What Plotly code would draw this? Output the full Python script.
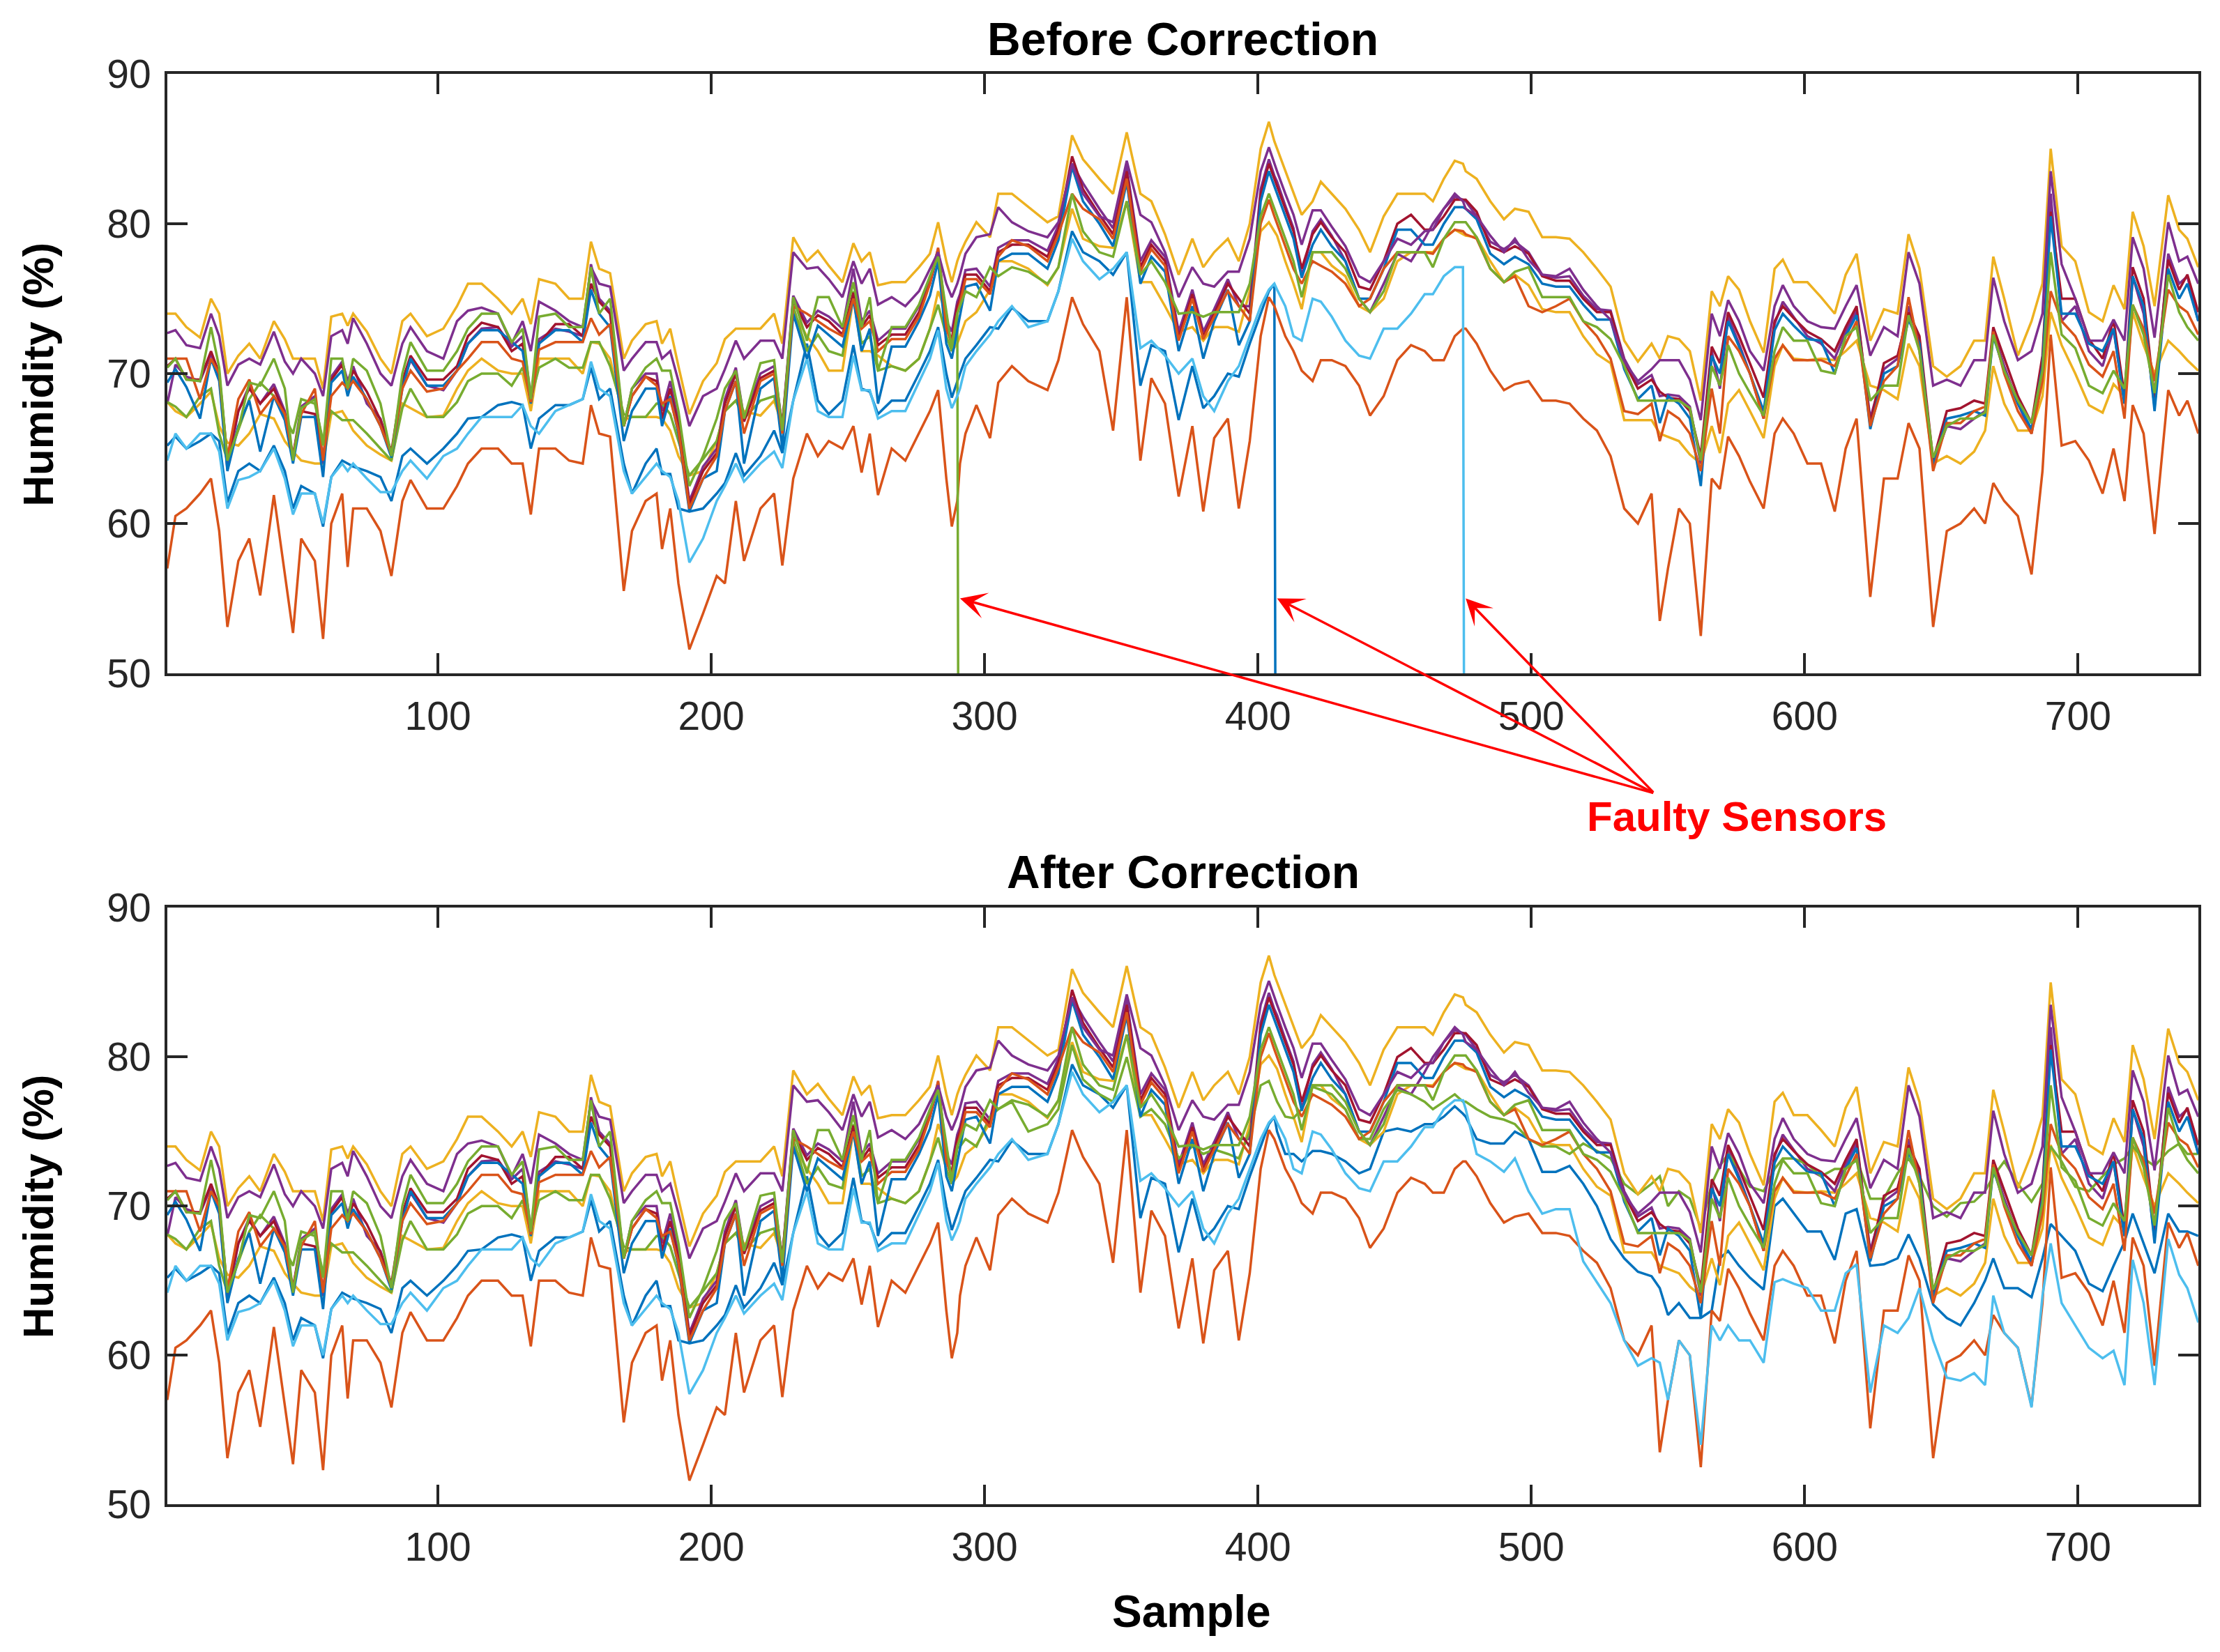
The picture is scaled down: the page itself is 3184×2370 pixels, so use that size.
import plotly.graph_objects as go

# sample index of every reading taken off the chart
samples = [
    1, 4, 8, 13, 17, 20, 23, 27, 31, 35, 40, 44, 47, 50, 55, 58, 61, 65, 67, 69, 74, 79, 83, 87,
    90, 96, 102, 107, 111, 116, 122, 127, 131, 134, 137, 143, 148, 153, 156, 159, 163, 168, 171,
    176, 180, 182, 185, 188,
    192, 197, 202, 205, 209, 212, 218, 223, 226, 230, 235, 239, 243, 248, 252, 255, 258, 261, 266,
    271, 276, 280, 283, 286, 288, 290, 291, 293, 297, 302, 305, 310, 316, 323, 327, 332, 336, 342,
    347, 352, 357, 361, 366, 371, 376, 380,
    384, 389, 393, 397, 401, 404, 406, 407, 410, 413, 416, 420, 423, 427, 432, 437, 441, 446, 451,
    456, 461, 464, 468, 472, 475, 476, 480, 485, 490, 494, 499, 504, 509, 514, 519, 524, 529, 534,
    539, 544, 547, 550, 554, 558, 562, 566,
    569, 572, 576, 580, 585, 589, 592, 596, 601, 606, 611, 615, 619, 624, 629, 634, 638, 642, 647,
    652, 657, 662, 666, 669, 673, 678, 683, 687, 690, 694, 699, 704, 709, 713, 717, 720, 724, 728,
    733, 737, 740, 744,
]

# healthy sensors (humidity %)
yellow_b = [
    74.0, 74.0, 73.1, 72.4, 75.0, 74.0, 70.0, 71.2, 72.0, 71.0, 73.5, 72.3, 71.0, 71.0, 71.0, 69.0,
    73.8, 74.0, 73.2, 74.0, 72.8, 71.0, 70.0, 73.5, 74.0, 72.5, 73.0, 74.5, 76.0, 76.0, 75.0, 74.0,
    75.0, 73.3, 76.3, 76.0, 75.0, 75.0, 78.8, 77.0, 76.7, 71.0, 72.2, 73.3, 73.5, 72.0, 73.0, 70.5,
    67.3, 69.5, 70.7, 72.3, 73.0, 73.0, 73.0, 74.0, 72.0, 79.1, 77.5, 78.2, 77.2, 76.1, 78.7, 77.5,
    78.1, 75.9, 76.1, 76.1, 77.1, 78.0, 80.1, 77.5, 76.1, 77.5, 78.0, 78.8, 80.1, 79.1, 82.0, 82.0,
    81.1, 80.1, 80.5, 85.9, 84.3, 83.0, 82.0, 86.1, 82.0, 81.5, 79.3, 76.6, 79.0, 77.1,
    78.1, 79.0, 77.5, 80.0, 85.0, 86.8, 85.5, 85.0, 83.5, 82.0, 80.6, 81.5, 82.8, 82.0, 81.0, 79.6,
    78.1, 80.5, 82.0, 82.0, 82.0, 81.5, 83.0, 84.2, 84.0, 83.5, 83.0, 81.5, 80.3, 81.0, 80.8, 79.1,
    79.1, 79.0, 78.1, 77.0, 75.8, 72.2, 70.8, 72.0, 71.0, 72.5, 72.3, 71.5, 68.2, 75.5,
    74.5, 76.5, 75.6, 73.5, 71.4, 77.0, 77.6, 76.1, 76.1, 75.1, 74.0, 76.6, 78.0, 72.2, 74.3, 74.0,
    79.3, 77.0, 70.5, 69.8, 70.5, 72.2, 72.2, 77.8, 75.0, 71.2, 73.5, 76.0, 85.0, 78.5, 77.5, 74.1,
    73.5, 75.9, 74.3, 80.8, 78.5, 74.5, 81.9, 79.6, 79.0, 77.1,
]
purple_b = [
    72.7, 72.9, 71.9, 71.7, 74.0, 72.5, 69.2, 70.6, 71.0, 70.6, 72.8, 70.8, 70.0, 71.0, 70.0, 68.5,
    72.5, 72.9, 72.0, 73.7, 72.0, 70.0, 69.2, 72.0, 73.1, 71.5, 71.0, 73.5, 74.2, 74.4, 74.0, 72.0,
    73.5, 71.5, 74.8, 74.2, 73.5, 73.1, 77.1, 76.0, 75.8, 70.2, 71.0, 72.1, 72.1, 71.0, 71.5, 69.5,
    66.5, 68.5, 69.0, 70.3, 72.2, 71.0, 72.2, 72.2, 71.0, 78.1, 77.0, 77.1, 76.3, 75.1, 77.5, 76.0,
    77.0, 74.6, 75.1, 74.5, 75.5, 77.0, 78.1, 76.0, 75.1, 76.0, 76.6, 78.0, 79.1, 79.3, 81.1, 80.1,
    79.5, 79.1, 80.1, 84.0, 82.0, 80.5, 80.1, 84.2, 80.6, 80.1, 78.1, 75.1, 77.1, 76.0,
    75.8, 76.8, 76.8, 79.0, 83.5, 85.1, 84.0, 83.5, 82.0, 80.6, 78.6, 80.9, 80.9, 79.8, 78.5, 76.5,
    76.1, 77.5, 79.0, 78.6, 79.5, 79.6, 81.0, 82.0, 81.5, 81.0, 80.5, 79.2, 78.1, 79.0, 77.6, 76.6,
    76.5, 77.0, 75.6, 74.5, 73.6, 70.8, 69.5, 70.3, 70.9, 70.9, 70.9, 69.6, 66.9, 74.0,
    72.5, 74.9, 73.5, 71.5, 70.2, 74.5, 75.9, 74.5, 73.5, 73.1, 73.0, 74.5, 75.9, 71.2, 73.1, 72.5,
    78.1, 76.0, 69.2, 69.6, 69.2, 70.9, 70.9, 76.4, 73.5, 70.9, 71.5, 74.0, 83.5, 77.3, 75.0, 72.2,
    72.2, 73.6, 72.2, 79.1, 77.0, 72.4, 80.1, 77.5, 77.8, 76.0,
]
dark_red = [
    70.5, 71.0, 69.6, 69.6, 71.5, 70.0, 64.2, 67.5, 69.0, 68.0, 69.0, 67.3, 64.5, 67.5, 67.3, 64.2,
    69.6, 70.6, 69.0, 70.2, 68.8, 66.9, 64.8, 69.5, 71.2, 69.6, 69.6, 70.5, 72.5, 73.4, 73.1, 71.5,
    72.0, 68.1, 72.0, 73.3, 73.3, 72.5, 76.0, 74.8, 74.0, 66.5, 68.5, 69.8, 69.5, 67.0, 69.0, 66.5,
    61.3, 63.5, 64.7, 68.0, 70.0, 66.8, 69.7, 70.2, 66.5, 74.9, 73.1, 73.9, 73.5, 72.6, 75.4, 73.1,
    73.9, 71.9, 72.6, 72.6, 74.1, 76.0, 78.1, 73.0, 72.3, 74.5, 75.0, 76.6, 76.6, 75.5, 78.1, 78.6,
    78.6, 77.8, 79.6, 84.5, 82.3, 80.6, 79.3, 83.5, 77.1, 78.6, 77.5, 72.4, 75.3, 72.5,
    74.0, 76.0, 75.0, 74.0, 82.0, 84.0, 83.0, 82.5, 81.0, 79.5, 77.0, 79.3, 80.1, 79.1, 78.1, 75.8,
    75.6, 77.5, 80.0, 80.6, 79.6, 79.6, 80.5, 81.6, 81.6, 81.6, 80.8, 78.5, 78.1, 78.5, 78.0, 76.5,
    76.2, 76.2, 75.0, 74.1, 74.1, 70.8, 69.0, 69.6, 68.8, 68.4, 68.3, 67.5, 64.5, 71.8,
    70.7, 74.1, 72.5, 70.7, 68.4, 73.5, 74.5, 73.7, 72.8, 72.3, 71.5, 73.1, 74.5, 66.7, 70.7, 71.2,
    74.1, 72.5, 64.2, 67.5, 67.7, 68.2, 68.0, 73.1, 71.0, 68.5, 66.7, 71.2, 80.8, 75.0, 75.0, 72.3,
    71.0, 73.6, 68.5, 77.1, 75.0, 68.4, 77.6, 75.6, 76.6, 74.1,
]
blue_b = [
    69.4, 70.3, 69.1, 67.0, 71.0, 69.5, 63.5, 66.5, 68.2, 64.8, 68.5, 66.9, 64.0, 67.1, 67.1, 63.1,
    69.4, 70.2, 68.5, 69.8, 68.3, 66.5, 64.4, 69.0, 71.0, 69.2, 69.2, 70.2, 72.0, 72.9, 72.9, 72.1,
    71.5, 68.0, 72.0, 72.9, 72.9, 72.1, 75.6, 74.0, 73.1, 65.5, 67.5, 69.0, 69.0, 66.5, 68.5, 66.0,
    60.8, 63.0, 63.5, 67.5, 69.5, 64.0, 69.0, 69.7, 65.0, 74.0, 71.0, 73.2, 72.6, 71.8, 75.0, 71.5,
    73.0, 68.0, 71.8, 71.8, 73.5, 75.2, 77.5, 72.0, 71.0, 73.0, 74.0, 75.8, 76.0, 74.2, 77.5, 78.0,
    78.0, 77.0, 78.9, 83.8, 81.5, 80.0, 78.5, 82.8, 76.0, 77.8, 76.8, 71.5, 74.5, 71.0,
    73.5, 75.6, 71.9, 73.5, 81.5, 83.5, 82.5, 82.0, 80.5, 79.0, 76.4, 78.6, 79.6, 78.5, 77.5, 75.0,
    75.0, 77.0, 79.6, 79.6, 78.6, 78.6, 80.0, 81.1, 81.1, 81.0, 80.3, 78.0, 77.3, 77.8, 77.3, 76.0,
    75.8, 75.8, 74.6, 73.6, 73.6, 70.3, 68.3, 69.2, 66.7, 68.5, 68.0, 67.0, 62.5, 71.2,
    70.0, 73.5, 71.8, 70.0, 67.5, 72.9, 74.0, 73.2, 72.3, 72.2, 70.0, 72.5, 73.9, 66.3, 70.0, 70.5,
    73.6, 72.0, 63.8, 67.0, 67.2, 67.5, 67.2, 72.5, 70.2, 68.0, 66.3, 70.5, 80.5, 74.0, 74.0, 72.0,
    71.5, 73.0, 68.0, 76.5, 74.5, 67.5, 77.0, 75.0, 76.0, 73.5,
]
purple_a = [
    68.0, 70.6, 69.8, 69.5, 71.3, 69.8, 63.6, 67.5, 69.2, 68.0, 69.3, 67.5, 64.5, 67.8, 68.5, 64.0,
    69.8, 70.8, 69.5, 70.5, 68.0, 67.0, 64.6, 69.3, 70.9, 69.2, 68.9, 70.2, 72.0, 73.0, 73.1, 71.8,
    72.5, 68.5, 72.3, 73.0, 72.8, 72.5, 77.3, 75.0, 74.2, 66.5, 69.0, 70.0, 70.0, 67.5, 69.5, 66.8,
    61.5, 63.8, 65.0, 68.3, 70.4, 67.0, 70.0, 70.5, 66.5, 75.2, 73.4, 74.2, 73.8, 73.0, 77.0, 73.5,
    74.2, 72.2, 73.0, 73.0, 74.5, 76.3, 78.3, 73.5, 72.8, 74.8, 75.3, 76.9, 77.0, 75.8, 78.4, 78.9,
    78.9, 78.2, 79.9, 84.0, 82.7, 81.0, 79.7, 83.8, 77.5, 78.9, 77.8, 72.8, 75.6, 72.8,
    74.3, 76.3, 74.5, 74.5, 82.3, 84.3, 83.2, 82.8, 81.2, 79.7, 76.5, 79.5, 80.3, 79.2, 77.5, 75.0,
    74.1, 76.0, 78.0, 77.5, 79.0, 80.0, 81.0, 81.8, 81.6, 81.5, 80.5, 78.8, 78.3, 78.8, 78.1, 76.6,
    76.4, 76.5, 75.2, 74.3, 74.2, 71.0, 69.3, 69.9, 68.5, 68.6, 68.5, 67.8, 64.0, 71.5,
    69.0, 73.8, 72.0, 70.0, 67.0, 73.3, 74.8, 73.8, 72.5, 72.0, 71.0, 72.8, 74.2, 67.0, 70.3, 71.0,
    74.5, 72.0, 64.0, 66.5, 66.3, 67.0, 67.5, 72.8, 70.5, 68.0, 66.0, 70.5, 82.0, 73.5, 74.5, 71.5,
    70.5, 73.0, 68.0, 76.5, 74.0, 67.8, 78.0, 76.0, 76.5, 73.5,
]
green_b = [
    70.4, 71.0, 69.6, 69.5, 73.1, 70.4, 64.2, 66.3, 69.4, 69.2, 71.0, 69.0, 64.2, 67.7, 68.3, 65.2,
    71.0, 71.0, 69.0, 71.0, 70.2, 68.0, 64.5, 70.0, 72.1, 70.2, 70.2, 71.5, 73.0, 74.0, 74.0, 72.1,
    73.0, 68.3, 73.8, 74.0, 73.1, 73.1, 77.1, 74.0, 75.0, 66.5, 69.0, 70.4, 71.0, 70.2, 70.2, 67.5,
    62.5, 64.5, 67.0, 69.0, 70.2, 67.0, 70.7, 70.9, 66.2, 75.1, 72.2, 75.1, 75.1, 73.1, 76.1, 73.1,
    75.1, 70.2, 73.1, 73.1, 74.6, 76.5, 77.8, 74.0, 71.7, 74.0, 74.5, 75.5, 75.1, 77.1, 76.5, 77.1,
    76.8, 76.0, 77.1, 82.0, 79.5, 78.1, 77.8, 81.5, 76.6, 77.5, 76.1, 74.0, 74.1, 73.8,
    74.1, 74.1, 74.1, 76.0, 80.5, 82.0, 81.0, 80.5, 79.0, 77.5, 75.1, 78.1, 78.1, 78.1, 77.0, 75.0,
    74.1, 75.5, 78.1, 78.1, 78.1, 77.1, 79.0, 80.1, 80.1, 80.1, 79.1, 77.0, 76.1, 76.8, 77.1, 75.1,
    75.1, 75.1, 73.5, 73.1, 72.3, 70.5, 68.2, 68.2, 68.2, 68.2, 68.2, 67.7, 64.2, 70.5,
    69.2, 71.9, 70.0, 68.7, 67.2, 71.5, 73.1, 72.2, 72.2, 70.2, 70.0, 72.5, 73.1, 68.2, 69.2, 69.2,
    73.9, 71.5, 64.4, 66.5, 67.0, 67.0, 67.4, 72.6, 70.2, 68.2, 66.7, 70.2, 78.1, 72.6, 71.7, 69.2,
    68.7, 70.2, 69.0, 74.6, 72.6, 68.7, 76.6, 74.1, 73.1, 72.2,
]
yellow_a = [
    68.1, 67.5, 67.1, 68.0, 68.8, 66.5, 65.4, 65.2, 66.0, 67.3, 67.0, 65.5, 64.8, 64.2, 64.0, 64.0,
    67.3, 67.5, 66.9, 66.2, 65.2, 64.6, 64.2, 68.0, 67.7, 67.1, 67.2, 69.0, 70.2, 71.0, 70.2, 70.0,
    70.0, 67.5, 71.0, 71.0, 71.0, 70.0, 72.1, 72.0, 71.0, 66.9, 67.1, 67.1, 67.1, 67.0, 66.2, 64.5,
    63.2, 63.5, 65.5, 67.5, 68.2, 67.5, 67.2, 68.2, 66.5, 74.1, 72.5, 71.5, 70.2, 70.2, 75.1, 71.5,
    71.5, 71.2, 70.5, 70.2, 71.0, 73.0, 75.5, 74.0, 71.5, 72.0, 72.5, 73.5, 74.1, 75.6, 77.5, 77.5,
    77.0, 75.9, 77.1, 81.0, 79.0, 78.5, 78.4, 81.5, 76.1, 76.1, 74.5, 72.8, 73.1, 72.2,
    73.1, 73.1, 72.8, 75.5, 79.5, 80.1, 79.5, 79.2, 77.5, 76.0, 74.3, 78.1, 78.1, 77.2, 76.5, 74.5,
    74.1, 75.0, 77.5, 78.1, 78.1, 78.1, 79.0, 79.6, 79.3, 79.2, 79.1, 77.5, 76.1, 76.6, 75.9, 74.3,
    74.1, 74.1, 72.5, 71.3, 70.7, 66.9, 66.9, 66.9, 66.0, 65.8, 65.5, 64.6, 64.0, 66.5,
    64.7, 68.0, 68.9, 67.5, 65.7, 70.5, 71.9, 71.0, 70.9, 71.0, 70.9, 71.5, 72.2, 69.2, 68.9, 68.3,
    72.0, 70.5, 64.0, 64.5, 64.0, 64.8, 66.2, 70.5, 68.0, 66.2, 66.2, 68.5, 74.1, 71.9, 70.0, 67.9,
    67.4, 69.3, 68.5, 74.1, 71.9, 70.0, 72.2, 71.5, 70.9, 70.2,
]
orange_b = [
    71.0, 71.0, 71.0, 68.3, 71.0, 70.0, 64.4, 68.3, 69.6, 67.3, 68.5, 67.3, 64.5, 67.3, 69.0, 64.2,
    68.5, 69.4, 69.0, 69.5, 68.3, 66.5, 64.6, 69.0, 70.2, 68.8, 69.0, 70.2, 71.0, 72.1, 72.1, 71.0,
    70.8, 68.1, 71.6, 72.1, 72.1, 72.1, 73.7, 72.6, 73.3, 66.5, 68.5, 69.8, 69.2, 68.0, 68.3, 66.2,
    61.0, 63.0, 64.5, 67.5, 69.5, 66.0, 69.5, 70.0, 66.0, 74.5, 74.0, 73.5, 73.0, 72.5, 75.0, 73.0,
    73.5, 71.5, 72.3, 72.3, 73.8, 76.0, 78.4, 73.0, 72.0, 74.0, 74.7, 76.3, 76.3, 75.3, 77.8, 78.9,
    78.5, 77.5, 79.3, 82.0, 81.0, 80.3, 79.0, 83.0, 76.8, 78.3, 77.2, 72.2, 75.0, 72.3,
    73.8, 75.5, 74.5, 73.5, 80.0, 81.6, 80.5, 80.0, 78.5, 77.0, 76.0, 77.5, 77.2, 76.8, 76.0, 74.5,
    75.0, 77.0, 78.1, 78.1, 78.1, 78.0, 79.0, 79.6, 79.5, 79.3, 79.0, 77.0, 76.1, 76.5, 74.5, 74.1,
    74.5, 75.0, 73.5, 72.5, 71.0, 67.5, 67.3, 68.0, 65.5, 67.5, 67.0, 66.0, 63.5, 69.0,
    66.0, 72.5, 71.5, 70.0, 67.0, 71.0, 71.9, 70.9, 70.9, 70.9, 70.5, 72.0, 73.5, 66.5, 69.5, 70.5,
    75.1, 71.5, 63.5, 66.7, 66.7, 67.5, 67.8, 72.8, 70.0, 67.5, 66.0, 69.5, 75.5, 73.5, 72.5, 70.6,
    69.8, 71.5, 67.0, 74.6, 73.0, 69.5, 75.6, 74.5, 74.1, 72.6,
]
orange_a = [
    57.0, 60.5, 61.0, 62.0, 63.0, 59.5, 53.1, 57.5, 59.0, 55.2, 61.9, 56.5, 52.7, 59.0, 57.5, 52.3,
    60.0, 62.0, 57.1, 61.0, 61.0, 59.5, 56.5, 61.5, 62.9, 61.0, 61.0, 62.5, 64.0, 65.0, 65.0, 64.0,
    64.0, 60.6, 65.0, 65.0, 64.2, 64.0, 67.9, 66.0, 65.8, 55.5, 59.5, 61.5, 62.0, 58.3, 61.0, 56.0,
    51.6, 54.0, 56.5, 56.0, 61.5, 57.5, 61.0, 62.0, 57.2, 63.0, 66.0, 64.5, 65.5, 65.0, 66.5, 63.4,
    66.0, 61.9, 65.0, 64.2, 66.0, 67.5, 68.9, 63.0, 59.8, 61.5, 64.0, 66.0, 67.9, 65.7, 69.4, 70.5,
    69.5, 68.9, 70.9, 75.1, 73.3, 71.5, 66.2, 75.1, 64.2, 69.7, 68.0, 61.8, 66.5, 60.8,
    65.7, 67.0, 61.0, 65.5, 72.5, 75.1, 74.5, 74.0, 72.5, 71.5, 70.2, 69.5, 70.9, 70.9, 70.5, 69.2,
    67.2, 68.5, 70.9, 71.9, 71.5, 70.9, 70.9, 72.5, 73.0, 73.0, 72.0, 70.2, 68.9, 69.3, 69.5, 68.2,
    68.2, 68.0, 67.0, 66.2, 64.5, 61.0, 60.0, 62.0, 53.5, 57.0, 61.0, 60.0, 52.5, 63.0,
    62.3, 65.8, 64.5, 62.8, 61.0, 66.0, 67.0, 66.0, 64.0, 64.0, 60.8, 65.0, 67.0, 55.1, 63.0, 63.0,
    66.7, 65.0, 53.1, 59.5, 60.0, 61.0, 60.0, 62.7, 61.5, 60.5, 56.6, 63.5, 72.6, 65.2, 65.5, 64.2,
    62.0, 65.0, 61.5, 67.9, 66.0, 59.3, 68.9, 67.2, 68.2, 66.0,
]

# faulty sensors: readings up to the fault ...
green_a = [
    68.1, 67.8, 67.1, 68.5, 69.0, 66.0, 64.2, 66.3, 68.3, 69.4, 68.5, 67.1, 66.0, 68.3, 68.0, 65.5,
    67.5, 66.9, 66.9, 66.9, 66.0, 65.0, 64.2, 67.7, 69.0, 67.1, 67.1, 68.1, 69.5, 70.0, 70.0, 69.2,
    70.4, 68.3, 70.4, 71.0, 70.4, 70.4, 72.1, 72.1, 70.5, 67.3, 67.1, 67.1, 68.0, 68.0, 67.3, 65.5,
    63.2, 64.3, 65.5, 67.5, 68.2, 67.0, 68.2, 68.5, 66.5, 74.5, 71.5, 72.6, 71.5, 71.2, 75.5, 72.0,
    72.5, 70.2, 70.5, 70.2, 71.0, 73.0, 74.6, 72.5, 71.5, 73.9,
]
blue_a = [
    65.2, 65.8, 65.0, 65.5, 66.0, 65.5, 61.4, 63.5, 64.0, 63.5, 65.2, 63.5, 61.0, 62.5, 62.0, 59.8,
    63.1, 64.2, 64.0, 63.8, 63.5, 63.1, 61.5, 64.5, 65.0, 64.0, 65.0, 66.0, 67.0, 67.1, 67.9, 68.1,
    67.9, 65.0, 67.0, 67.9, 67.9, 68.3, 70.4, 68.3, 69.0, 64.0, 62.0, 64.0, 65.0, 63.3, 63.3, 61.0,
    60.8, 61.0, 62.0, 62.7, 64.7, 63.2, 64.5, 66.2, 64.7, 68.2, 72.0, 68.2, 67.3, 68.2, 71.9, 69.0,
    68.8, 67.3, 68.2, 68.2, 70.0, 71.5, 73.1, 70.0, 68.4, 69.5, 70.0, 71.0, 71.9, 73.1, 73.0, 74.4,
    73.5, 73.5, 75.5, 79.5, 78.1, 77.5, 76.6, 78.1, 69.2, 71.9, 71.5, 66.9, 70.5, 67.7,
    68.5, 70.0, 69.8, 72.0, 74.0, 75.5, 76.0,
]
light_blue = [
    64.2, 66.0, 65.0, 66.0, 66.0, 64.8, 61.0, 62.9, 63.1, 63.5, 65.0, 63.0, 60.6, 62.0, 62.0, 60.0,
    63.1, 64.0, 63.5, 64.0, 63.0, 62.1, 62.1, 63.5, 64.2, 63.0, 64.5, 65.0, 66.0, 67.1, 67.1, 67.1,
    67.9, 66.5, 66.0, 67.5, 67.9, 68.3, 70.8, 69.0, 68.5, 63.5, 62.0, 63.1, 64.0, 63.5, 63.1, 61.5,
    57.4, 59.0, 61.5, 62.5, 64.0, 62.8, 64.0, 64.8, 63.7, 68.2, 71.0, 67.5, 67.1, 67.1, 71.2, 68.9,
    68.9, 67.0, 67.5, 67.5, 69.4, 71.0, 72.9, 69.0, 67.7, 68.5, 69.0, 70.5, 71.5, 72.6, 73.5, 74.5,
    73.1, 73.5, 75.5, 79.0, 77.5, 76.3, 77.0, 78.1, 71.7, 72.2, 71.2, 70.0, 71.0, 68.5,
    67.5, 69.5, 70.5, 72.5, 74.5, 75.6, 76.0, 75.6, 74.5, 72.5, 72.2, 75.0, 74.8, 73.8, 72.2, 71.2,
    71.0, 73.0, 73.0, 74.0, 75.3, 75.3, 76.5, 77.1, 77.1,
]
# ... what a faulty sensor reports once it has failed
faulty_reading = 0.0

# ... and the corrected readings from the fault onwards
green_a_fixed = [
    74.0, 74.5, 74.0, 76.0, 76.5, 77.0, 75.0, 75.5, 76.5, 80.8, 78.5, 77.5, 77.0, 80.0, 76.0, 76.5,
    75.5, 73.2, 74.0, 73.5,
    73.8, 73.5, 73.2, 75.0, 78.1, 78.4, 77.5, 77.0, 76.0, 75.9, 76.5, 78.0, 77.8, 77.5, 76.5, 74.5,
    74.5, 76.5, 77.8, 77.5, 77.0, 76.5, 77.0, 77.5, 77.0, 77.0, 76.5, 76.0, 75.8, 75.5, 74.5, 74.0,
    74.0, 73.5, 74.2, 73.7, 73.2, 71.5, 70.8, 71.5, 72.0, 70.0, 71.0, 70.5, 68.5, 71.5,
    72.7, 73.5, 72.5, 71.3, 71.0, 72.5, 73.2, 73.2, 72.8, 72.0, 72.5, 72.5, 73.2, 70.5, 70.5, 72.2,
    73.2, 72.0, 70.0, 69.3, 70.2, 70.3, 71.0, 72.0, 73.0, 71.5, 70.3, 71.5, 74.0, 73.0, 71.3, 71.0,
    72.0, 72.8, 73.2, 74.0, 73.2, 72.7, 73.7, 74.2, 73.5, 73.5,
]
blue_a_fixed = [
    75.0, 73.5, 73.5, 73.0, 73.7, 73.7, 73.5, 73.0, 72.2, 72.5, 75.0, 75.2, 75.0, 75.5, 75.5, 76.0,
    76.7, 76.2, 76.0, 74.5, 74.2, 74.2, 75.0, 74.5, 72.3, 72.3, 72.7, 71.5, 70.0, 67.8, 66.5, 65.6,
    65.3, 64.5, 62.7, 63.5, 62.5, 62.5, 63.0,
    66.5, 67.0, 66.0, 65.2, 64.4, 70.0, 70.5, 69.5, 68.3, 68.3, 66.4, 69.5, 69.8, 66.0, 66.1, 66.5,
    68.1, 66.5, 63.4, 62.5, 62.0, 63.5, 65.0, 66.5, 64.5, 64.5, 63.9, 66.5, 68.8, 68.0, 67.0, 64.8,
    64.3, 66.0, 67.6, 69.5, 67.5, 65.5, 69.5, 68.3, 68.3, 68.0,
]
light_blue_fixed = [
    76.5, 73.5, 73.0, 72.3, 73.2, 71.0, 69.5, 69.8, 69.8, 66.3, 64.9, 63.5, 61.0, 59.3, 59.8, 59.5,
    57.0, 61.0, 60.0, 54.0, 62.0,
    61.0, 62.0, 61.0, 61.0, 59.5, 64.9, 65.1, 64.8, 64.5, 63.0, 63.0, 65.5, 66.1, 57.5, 62.0, 61.5,
    62.5, 64.5, 61.0, 58.5, 58.3, 58.8, 58.0, 64.0, 61.5, 60.5, 56.5, 64.0, 67.5, 63.5, 62.0, 60.5,
    59.8, 60.3, 58.0, 66.4, 63.5, 58.0, 67.8, 65.4, 64.5, 62.2,
]

# MATLAB default line colours, in plotting order
sensors = [
    (blue_a, blue_a_fixed, "#0072BD"),
    (orange_a, None, "#D95319"),
    (yellow_a, None, "#EDB120"),
    (purple_a, None, "#7E2F8E"),
    (green_a, green_a_fixed, "#77AC30"),
    (light_blue, light_blue_fixed, "#4DBEEE"),
    (dark_red, None, "#A2142F"),
    (blue_b, None, "#0072BD"),
    (orange_b, None, "#D95319"),
    (yellow_b, None, "#EDB120"),
    (purple_b, None, "#7E2F8E"),
    (green_b, None, "#77AC30"),
]

fig = go.Figure()
fault_samples = []
for values, fixed, color in sensors:
    line = dict(color=color, width=3.5)
    n = len(values)
    if fixed is None:
        x_top, y_top = samples[:n], values
        x_bot, y_bot = samples[:n], values
    else:
        # raw signal drops out at the fault, corrected one carries on
        fault_samples.append(samples[n])
        x_top, y_top = samples[:n + 1], values + [faulty_reading]
        x_bot, y_bot = samples[:n + len(fixed)], values + fixed
    fig.add_trace(go.Scatter(x=x_top, y=y_top, mode="lines", line=line,
                             xaxis="x", yaxis="y", hoverinfo="skip"))
    fig.add_trace(go.Scatter(x=x_bot, y=y_bot, mode="lines", line=line,
                             xaxis="x2", yaxis="y2", hoverinfo="skip"))

dark = "#262626"
font = "Liberation Sans, Arial, sans-serif"
axis_style = dict(
    showline=True, linecolor=dark, linewidth=3.5, mirror="ticks",
    ticks="inside", ticklen=29, tickwidth=3.5, tickcolor=dark,
    showgrid=False, zeroline=False,
    tickfont=dict(family=font, size=57, color=dark),
)
x_style = dict(axis_style, range=[1, 744], tickvals=[100, 200, 300, 400, 500, 600, 700],
               ticklabelstandoff=9, domain=[0.0732, 0.9927])
y_style = dict(axis_style, range=[50, 90], tickvals=[50, 60, 70, 80, 90],
               ticklabelstandoff=8)

fig.update_layout(
    width=3168, height=2354,
    margin=dict(l=0, r=0, t=0, b=0),
    paper_bgcolor="white", plot_bgcolor="white",
    showlegend=False,
    xaxis=dict(x_style, anchor="y"),
    yaxis=dict(y_style, anchor="x", domain=[0.5956, 0.9712]),
    xaxis2=dict(x_style, anchor="y2"),
    yaxis2=dict(y_style, anchor="x2", domain=[0.0750, 0.4487]),
)

texts = [
    ("<b>Before Correction</b>", 0.5330, 0.9930, 0, 66),
    ("<b>After Correction</b>", 0.5330, 0.4712, 0, 66),
    ("<b>Humidity (%)</b>", 0.0148, 0.7830, -90, 62),
    ("<b>Humidity (%)</b>", 0.0148, 0.2618, -90, 62),
    ("<b>Sample</b>", 0.5370, 0.0080, 0, 64),
]
for text, x, y, angle, size in texts:
    fig.add_annotation(text=text, x=x, y=y, xref="paper", yref="paper",
                       showarrow=False, textangle=angle,
                       font=dict(family=font, size=size, color="black"),
                       xanchor="center", yanchor="middle")

# arrows from the label to where each sensor fails
for s in fault_samples:
    fig.add_annotation(x=s, y=55, xref="x", yref="y", ax=545, ay=42, axref="x", ayref="y",
                       text="", showarrow=True, arrowhead=3, arrowsize=1.8,
                       arrowwidth=3.5, arrowcolor="#FF0000")
fig.add_annotation(text="<b>Faulty Sensors</b>", x=0.7838, y=0.5060, xref="paper", yref="paper",
                   showarrow=False, font=dict(family=font, size=60, color="#FF0000"),
                   xanchor="center", yanchor="middle")

fig.write_html("out.html")
